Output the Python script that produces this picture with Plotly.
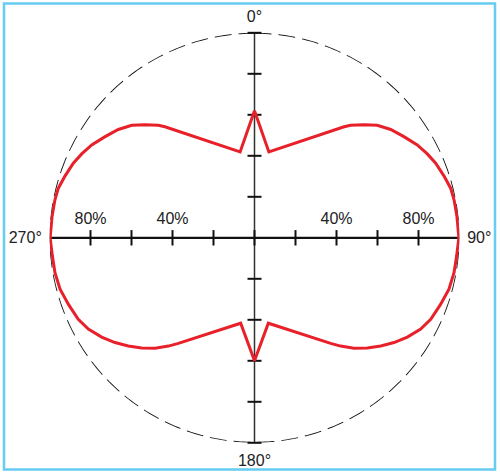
import plotly.graph_objects as go
import numpy as np

# Polar intensity pattern (theta in degrees clockwise from top, r as fraction of 100%)
CURVE_THETA = [0, 9.5, 38.9, 40.5, 44.1, 47.5, 51.5, 55.9, 60.3, 64.1, 67.6, 71.9, 75.8, 79.3, 84.0, 90,
               95.1, 99.9, 104.8, 109.7, 114.8, 118.8, 123.0, 126.9, 130.6, 134.3, 138.0, 141.5, 144.2,
               170.8, 180,
               189.2, 215.8, 218.5, 222.0, 225.7, 229.4, 233.1, 237.0, 241.2, 245.2, 250.3, 255.2,
               260.1, 264.9, 270,
               276.0, 280.7, 284.2, 288.1, 292.4, 295.9, 299.7, 304.1, 308.5, 312.5, 315.9, 319.5,
               321.1, 350.5, 360]
CURVE_R = [0.62, 0.425, 0.696, 0.722, 0.768, 0.812, 0.849, 0.880, 0.914, 0.937, 0.956, 0.972, 0.987,
           0.991, 0.993, 0.997,
           0.990, 0.988, 0.981, 0.964, 0.947, 0.925, 0.889, 0.851, 0.811, 0.769, 0.725, 0.675, 0.635,
           0.422, 0.60,
           0.422, 0.635, 0.675, 0.725, 0.769, 0.811, 0.851, 0.889, 0.925, 0.947, 0.964, 0.981,
           0.988, 0.990, 0.997,
           0.993, 0.991, 0.987, 0.972, 0.956, 0.937, 0.914, 0.880, 0.849, 0.812, 0.768, 0.722,
           0.696, 0.425, 0.62]

AXIS_TICKS_R = [0.2, 0.4, 0.6, 0.8, 1.0]
H_TICKS_R = [0.2, 0.4, 0.6, 0.8]
PCT_LABELS = ["80%", "40%", "40%", "80%"]
PCT_R = [0.8, 0.4, 0.4, 0.8]
PCT_THETA = [270, 270, 90, 90]
ANGLE_TICKS = [0, 90, 180, 270]
ANGLE_TEXT = ["0°", "90°", "180°", "270°"]
RIM_THETA = list(np.arange(0, 361, 1))
RIM_R = [1.0] * len(RIM_THETA)

FONT = "Liberation Sans, Arial, sans-serif"

fig = go.Figure()

# dashed outer circle (100%)
fig.add_trace(go.Scatterpolar(r=RIM_R, theta=RIM_THETA, mode="lines",
                              line=dict(color="#111", width=1.8, dash="17px,7px"),
                              cliponaxis=False, hoverinfo="skip"))
# axes cross
fig.add_trace(go.Scatterpolar(r=[1, 0, 1], theta=[0, 0, 180], mode="lines",
                              line=dict(color="#333", width=1.5), cliponaxis=False, hoverinfo="skip"))
fig.add_trace(go.Scatterpolar(r=[1, 0, 1], theta=[270, 270, 90], mode="lines",
                              line=dict(color="#111", width=2.2), cliponaxis=False, hoverinfo="skip"))
# ticks on vertical axis
fig.add_trace(go.Scatterpolar(r=AXIS_TICKS_R + AXIS_TICKS_R,
                              theta=[0] * len(AXIS_TICKS_R) + [180] * len(AXIS_TICKS_R),
                              mode="markers",
                              marker=dict(symbol="line-ew", size=10, line=dict(color="#111", width=2)),
                              cliponaxis=False, hoverinfo="skip"))
# ticks on horizontal axis
fig.add_trace(go.Scatterpolar(r=[0] + H_TICKS_R + H_TICKS_R,
                              theta=[90] + [90] * len(H_TICKS_R) + [270] * len(H_TICKS_R),
                              mode="markers",
                              marker=dict(symbol="line-ns", size=11, line=dict(color="#111", width=2)),
                              cliponaxis=False, hoverinfo="skip"))
# percentage labels
fig.add_trace(go.Scatterpolar(r=PCT_R, theta=PCT_THETA, mode="markers+text", text=PCT_LABELS,
                              textposition="top center",
                              textfont=dict(family=FONT, size=16, color="#222"),
                              marker=dict(size=14, color="rgba(0,0,0,0)"),
                              cliponaxis=False, hoverinfo="skip"))
# red curve
fig.add_trace(go.Scatterpolar(r=CURVE_R, theta=CURVE_THETA, mode="lines",
                              line=dict(color="#E8202A", width=3),
                              cliponaxis=False, hoverinfo="skip"))

fig.update_layout(
    width=500, height=474,
    margin=dict(l=0, r=0, t=0, b=0),
    paper_bgcolor="white",
    showlegend=False,
    font=dict(family=FONT, size=16, color="#222"),
    polar=dict(
        domain=dict(x=[49.5 / 500, 459.5 / 500], y=[31.2 / 474, 441.2 / 474]),
        bgcolor="rgba(0,0,0,0)",
        radialaxis=dict(visible=False, range=[0, 1]),
        angularaxis=dict(rotation=90, direction="clockwise", showline=False, showgrid=False,
                         tickmode="array", tickvals=ANGLE_TICKS, ticktext=ANGLE_TEXT,
                         ticks="outside", ticklen=4, tickcolor="rgba(0,0,0,0)",
                         tickfont=dict(family=FONT, size=16, color="#222")),
    ),
    shapes=[dict(type="rect", xref="paper", yref="paper",
                 x0=4 / 500, x1=495 / 500, y0=(474 - 469.5) / 474, y1=(474 - 3.5) / 474,
                 line=dict(color="#66CCF2", width=2.5))],
)

fig.write_html("out.html", config={"displayModeBar": False},
               post_script="document.body.style.margin='0';document.body.style.overflow='hidden';")
